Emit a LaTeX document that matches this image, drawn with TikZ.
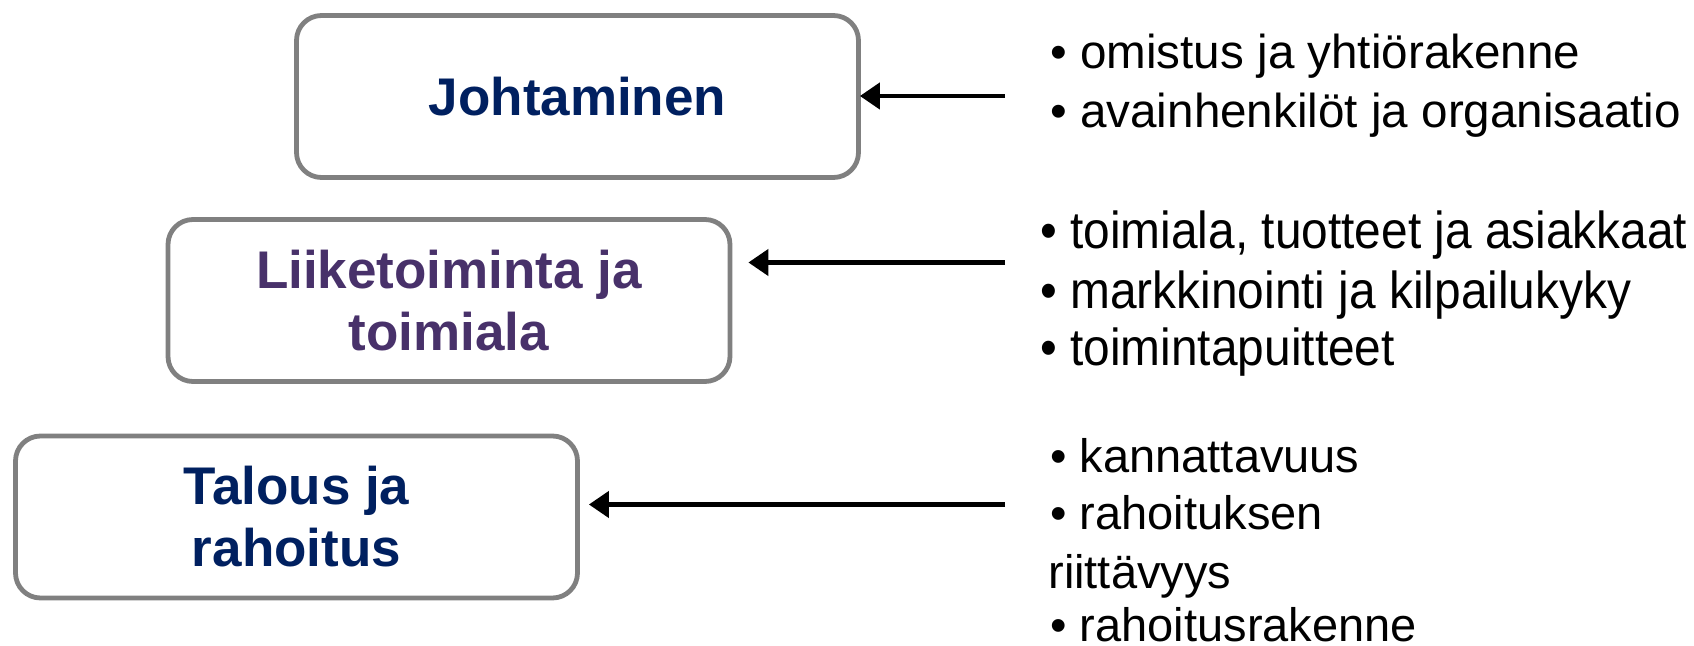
\documentclass[tikz,border=0pt]{standalone}
\usepackage{fontspec}
\setmainfont{Liberation Sans}
\newfontfamily\condfont{Liberation Sans}[FakeStretch=0.92]
\usetikzlibrary{arrows.meta}
\definecolor{navy}{HTML}{002060}
\definecolor{purp}{HTML}{48316A}
\definecolor{bordergray}{HTML}{808080}
\begin{document}
\begin{tikzpicture}[x=0.5pt,y=-0.5pt,
  box/.style={draw=bordergray, line width=2.4pt, rounded corners=12.5pt, fill=white,
    minimum width=281pt, minimum height=81pt, align=center,
    font=\fontsize{26.5pt}{31pt}\selectfont\bfseries, inner sep=0pt},
  item/.style={anchor=base west, inner sep=0pt, font=\fontsize{23.5pt}{28pt}\selectfont},
  titem/.style={anchor=base west, inner sep=0pt, font=\fontsize{23.8pt}{28pt}\selectfont},
  citem/.style={anchor=base west, inner sep=0pt, font=\condfont\fontsize{26pt}{30pt}\selectfont},
  conn/.style={line width=2.2pt, -{Triangle[length=10pt,width=13pt]}}]
\useasboundingbox (0,0) rectangle (1694,646);
% boxes
\node[box, text=navy] (b1) at (577.5,96.5) {Johtaminen};
\node[box, text=purp] (b2) at (449,300.5) {Liiketoiminta ja\\toimiala};
\node[box, text=navy] (b3) at (296.5,517) {Talous ja\\rahoitus};
% lists
\node[titem] (t1) at (1050,69) {• omistus ja yhtiörakenne};
\node[titem] (t2) at (1050,128) {• avainhenkilöt ja organisaatio};
\node[citem] (m1) at (1040,249) {• toimiala, tuotteet ja asiakkaat};
\node[citem] (m2) at (1040,309) {• markkinointi ja kilpailukyky};
\node[citem] (m3) at (1040,366) {• toimintapuitteet};
\node[item] (r1) at (1050,473) {• kannattavuus};
\node[item] (r2) at (1050,530) {• rahoituksen};
\node[item] (r3) at (1048,589) {riittävyys};
\node[item] (r4) at (1050,642) {• rahoitusrakenne};
% arrows
\coordinate (s1) at (1005,96);
\coordinate (s2) at (1005,262.5);
\coordinate (s3) at (1005,504.5);
\draw[conn, shorten >=-0.5pt] (s1) -- (b1.east |- s1);
\draw[conn, shorten >=8pt] (s2) -- (b2.east |- s2);
\draw[conn, shorten >=4.5pt] (s3) -- (b3.east |- s3);
\end{tikzpicture}
\end{document}
